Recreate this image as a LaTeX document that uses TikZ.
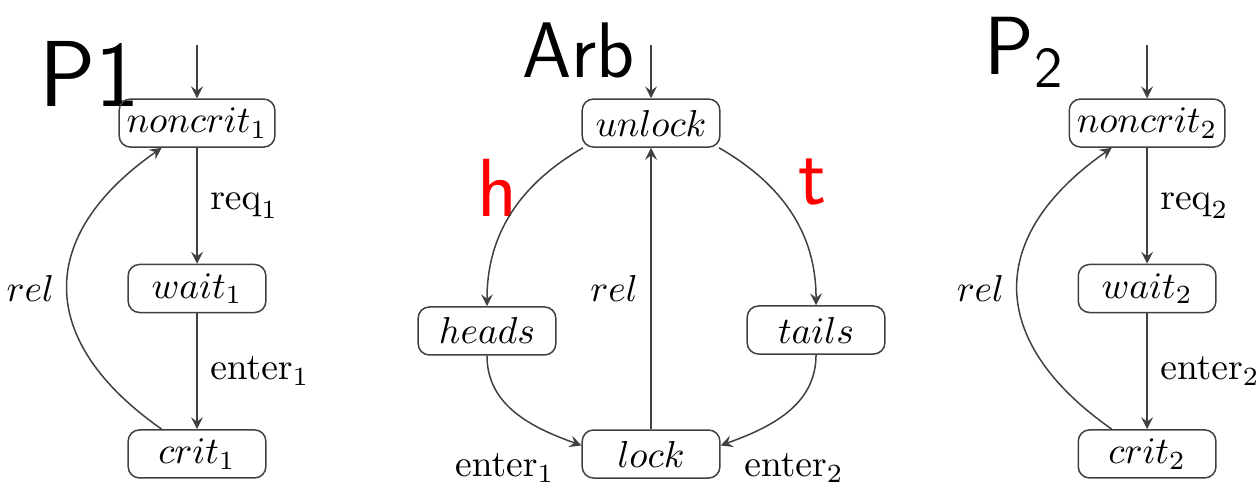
\documentclass[tikz,border=0pt]{standalone}
\usepackage{amsmath}
\usepackage{tikz}
\usetikzlibrary{positioning}

\tikzset{
  loc/.style={draw=black!75, rounded corners=3pt, minimum width=1.29cm,
    minimum height=0.45cm, inner sep=2pt},
  hand/.style={font=\sffamily\fontsize{#1}{#1}\selectfont},
  tr/.style={->, draw=black!75}
}

\begin{document}
\begin{tikzpicture}[node distance=1.55cm, >=stealth]
  \useasboundingbox (0,0) rectangle (11.787,-4.554);

  \node[hand=25] (p1) at (0.84,-0.69) {P1};
  \node[hand=21] (arb) at (5.42,-0.47) {Arb};
  \node[hand=22] (p2) at (9.60,-0.49) {P\textsubscript{2}};
  \node[hand=22, red] (h) at (4.66,-1.76) {h};
  \node[hand=22, red] (t) at (7.61,-1.71) {t};

  \node[loc] (nc1) at (1.846,-1.153) {$noncrit_1$};
  \node[loc] (w1) [below of=nc1] {$wait_1$};
  \node[loc] (c1) [below of=w1] {$crit_1$};

  \node[loc] (ul) at (6.100,-1.153) {$unlock$};
  \node[loc] (hd) at (4.563,-3.101) {$heads$};
  \node[loc] (tl) at (7.646,-3.092) {$tails$};
  \node[loc] (lk) at (6.100,-4.254) {$lock$};
  \node (en1) at (4.73,-4.385) {$\mathrm{enter}_1$};
  \node (en2) at (7.44,-4.385) {$\mathrm{enter}_2$};

  \node[loc] (nc2) at (10.748,-1.153) {$noncrit_2$};
  \node[loc] (w2) [below of=nc2] {$wait_2$};
  \node[loc] (c2) [below of=w2] {$crit_2$};

  \coordinate[above=5mm of nc1] (s1);
  \coordinate[above=5mm of ul] (sa);
  \coordinate[above=5mm of nc2] (s2);

  \draw[tr] (s1) -- (nc1);
  \draw[tr] (nc1) -- node[right] {$\mathrm{req}_1$} (w1);
  \draw[tr] (w1) -- node[right] {$\mathrm{enter}_1$} (c1);
  \draw[tr] (c1) to [out=145,in=215,looseness=1.4] node[left] {$rel$} (nc1);

  \draw[tr] (sa) -- (ul);
  \draw[tr] (ul.200) to [out=210,in=90] (hd);
  \draw[tr] (ul.340) to [out=330,in=90] (tl);
  \draw[tr] (hd) to [out=-90,in=160] (lk.173);
  \draw[tr] (tl) to [out=-90,in=20] (lk.7);
  \draw[tr] (lk) -- node[left] {$rel$} (ul);

  \draw[tr] (s2) -- (nc2);
  \draw[tr] (nc2) -- node[right] {$\mathrm{req}_2$} (w2);
  \draw[tr] (w2) -- node[right] {$\mathrm{enter}_2$} (c2);
  \draw[tr] (c2) to [out=145,in=215,looseness=1.4] node[left] {$rel$} (nc2);
\end{tikzpicture}
\end{document}
